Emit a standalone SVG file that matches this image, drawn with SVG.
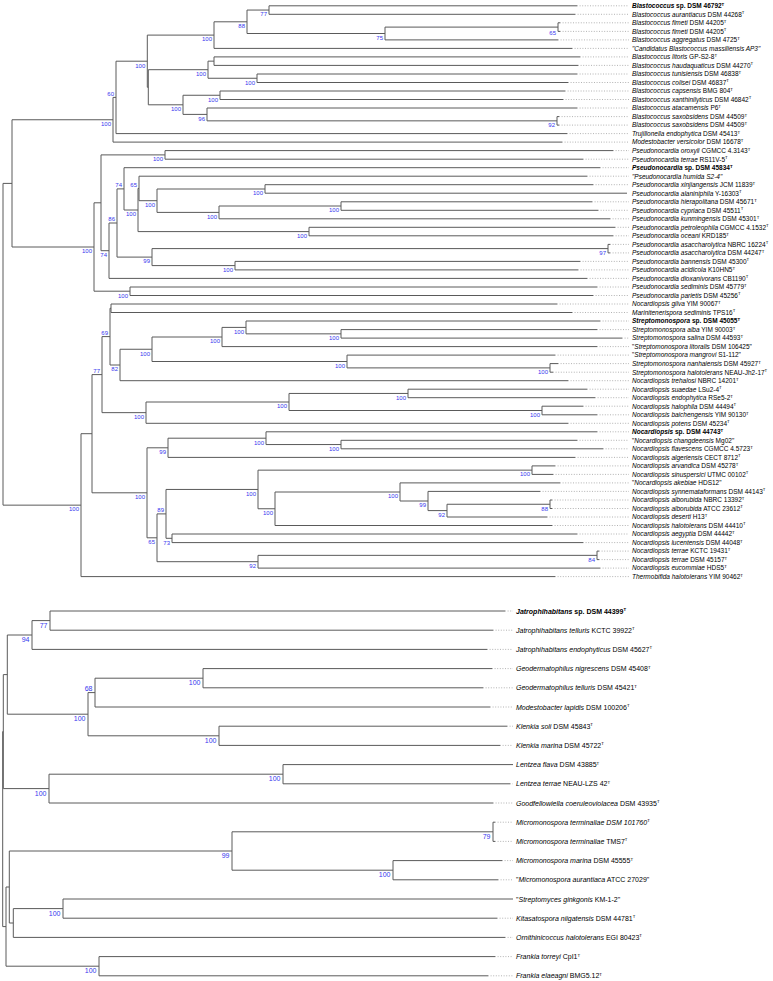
<svg xmlns="http://www.w3.org/2000/svg" width="773" height="981" viewBox="0 0 773 981">
<style>
.e{fill:none;stroke:#5a5a5a;stroke-width:1}
.d{fill:none;stroke:#a0a0a0;stroke-width:0.8;stroke-dasharray:1 1.6}
.t{font-family:"Liberation Sans",Arial,sans-serif;font-size:6.5px;fill:#000}
.tb{font-size:7px}
.i{font-style:italic}
.b{font-weight:bold}
.s{font-size:4.3px}
.bs{font-family:"Liberation Sans",Arial,sans-serif;font-size:6px;fill:#3636ee;text-anchor:end}
.bs2{font-size:7px}
</style>
<rect width="773" height="981" fill="#fff"/>
<g id="connectors">
<path class="e" d="M3 183.4V505.15M3 183.4H12M3 505.15H81
M12 119.75V247M12 119.75H113M12 247H94
M113 97.4V142.1M113 97.4H116M113 142.1H562
M116 61.2V133.6M116 61.2H147.3M116 133.6H567
M147.3 35.1V87.25M147.3 35.1H214M147.3 87.25H148.3
M148.3 69.7V104.8M148.3 69.7H208M148.3 104.8H183
M214 21.8V48.4M214 21.8H247M214 48.4H572
M247 10.05V33.5M247 10.05H269M247 33.5H385
M269 5.8V14.3M269 5.8H577M269 14.3H575
M385 27.1V39.9M385 27.1H558M385 39.9H558
M558 22.8V31.4M558 22.8H560M558 31.4H560
M208 61.15V78.25M208 61.15H214M208 78.25H257
M214 56.9V65.4M214 56.9H580M214 65.4H578
M257 74V82.5M257 74H577M257 82.5H568
M183 95.25V114.4M183 95.25H220M183 114.4H207
M220 91V99.5M220 91H565M220 99.5H563
M207 108V120.85M207 108H577M207 120.85H557
M557 116.6V125.1M557 116.6H559M557 125.1H559
M94 202.8V291.2M94 202.8H101M94 291.2H130
M130 287V295.5M130 287H597M130 295.5H593
M101 154.9V250.7M101 154.9H165M101 250.7H109
M165 150.6V159.2M165 150.6H613M165 159.2H583
M109 223V278.4M109 223H117M109 278.4H587
M117 188.9V257.1M117 188.9H124M117 257.1H152
M124 167.7V210M124 167.7H600M124 210H138
M138 188.4V231.6M138 188.4H139M138 231.6H309
M139 176.2V200.7M139 176.2H587M139 200.7H157
M157 189V212.4M157 189H265M157 212.4H219
M265 184.7V193.2M265 184.7H593M265 193.2H627
M219 206V218.8M219 206H341M219 218.8H610
M341 201.8V210.3M341 201.8H592M341 210.3H598
M309 227.3V235.8M309 227.3H615M309 235.8H613
M152 248.6V265.6M152 248.6H608M152 265.6H235
M608 244.4V252.9M608 244.4H610M608 252.9H610
M235 261.4V269.9M235 261.4H580M235 269.9H578
M81 433.7V576.6M81 433.7H92M81 576.6H555
M92 374.6V492.8M92 374.6H102M92 492.8H147
M102 336.6V412.65M102 336.6H110M102 412.65H146
M110 308.25V365M110 308.25H111M110 365H120
M111 304V312.5M111 304H557M111 312.5H572
M120 349.25V380.7M120 349.25H152M120 380.7H568
M152 337V361.5M152 337H222M152 361.5H347
M222 327.4V346.6M222 327.4H246M222 346.6H597
M246 321V333.85M246 321H600M246 333.85H341
M341 329.6V338.1M341 329.6H597M341 338.1H622
M347 355.1V367.9M347 355.1H555M347 367.9H550
M550 363.6V372.2M550 363.6H558M550 372.2H553
M146 402V423.3M146 402H289M146 423.3H568
M289 393.45V410.5M289 393.45H408M289 410.5H542
M408 389.2V397.7M408 389.2H587M408 397.7H595
M542 406.2V414.8M542 406.2H583M542 414.8H597
M147 447.8V537.8M147 447.8H168M147 537.8H157
M168 438.2V457.4M168 438.2H266M168 457.4H575
M266 431.8V444.55M266 431.8H597M266 444.55H341
M341 440.3V448.8M341 440.3H577M341 448.8H603
M157 513.9V561.7M157 513.9H166M157 561.7H258
M166 489.45V538.3M166 489.45H258M166 538.3H172
M258 470.15V508.75M258 470.15H532M258 508.75H275
M532 465.9V474.4M532 465.9H555M532 474.4H553
M275 492V525.5M275 492H400M275 525.5H552
M400 482.9V501M400 482.9H560M400 501H428
M428 491.4V510.6M428 491.4H540M428 510.6H447
M447 504.25V517M447 504.25H550M447 517H547
M550 500V508.5M550 500H552M550 508.5H552
M172 534V542.6M172 534H577M172 542.6H583
M258 555.35V568.1M258 555.35H597M258 568.1H600
M597 551.1V559.6M597 551.1H599M597 559.6H599
M2.7 731.6V926.6M2.7 731.6H3.3M2.7 926.6H6
M3.3 674.6V788.6M3.3 674.6H7.3M3.3 788.6H49
M7.3 635V714.2M7.3 635H32M7.3 714.2H88
M32 620.6V649.4M32 620.6H50M32 649.4H487
M50 611V630.2M50 611H505M50 630.2H493
M88 692.6V735.8M88 692.6H95M88 735.8H219
M95 678.2V707M95 678.2H203M95 707H490
M203 668.6V687.8M203 668.6H492M203 687.8H483
M219 726.2V745.4M219 726.2H507M219 745.4H500
M49 774.2V803M49 774.2H283M49 803H493
M283 764.6V783.8M283 764.6H513M283 783.8H510
M6 887V966.2M6 887H9.3M6 966.2H99
M9.3 851V923M9.3 851H232M9.3 923H13.3
M232 831.8V870.2M232 831.8H493M232 870.2H393
M493 822.2V841.4M493 822.2H495M493 841.4H495
M393 860.6V879.8M393 860.6H502M393 879.8H498
M13.3 908.6V937.4M13.3 908.6H63M13.3 937.4H505
M63 899V918.2M63 899H513M63 918.2H497
M99 956.6V975.8M99 956.6H495M99 975.8H488"/>
<path class="d" d="M577 5.8H629M575 14.3H629M560 22.8H629M560 31.4H629M558 39.9H629M572 48.4H629M580 56.9H629M578 65.4H629M577 74H629M568 82.5H629M565 91H629M563 99.5H629M577 108H629M559 116.6H629M559 125.1H629M567 133.6H629M562 142.1H629M613 150.6H629M583 159.2H629M600 167.7H629M587 176.2H629M593 184.7H629M592 201.8H629M598 210.3H629M610 218.8H629M615 227.3H629M613 235.8H629M610 244.4H629M610 252.9H629M580 261.4H629M578 269.9H629M587 278.4H629M597 287H629M593 295.5H629M557 304H629M572 312.5H629M600 321H629M597 329.6H629M622 338.1H629M597 346.6H629M555 355.1H629M558 363.6H629M553 372.2H629M568 380.7H629M587 389.2H629M595 397.7H629M583 406.2H629M597 414.8H629M568 423.3H629M597 431.8H629M577 440.3H629M603 448.8H629M575 457.4H629M555 465.9H629M553 474.4H629M560 482.9H629M540 491.4H629M552 500H629M552 508.5H629M547 517H629M552 525.5H629M577 534H629M583 542.6H629M599 551.1H629M599 559.6H629M600 568.1H629M555 576.6H629
M505 611H513M493 630.2H513M487 649.4H513M492 668.6H513M483 687.8H513M490 707H513M507 726.2H513M500 745.4H513M510 783.8H513M493 803H513M495 822.2H513M495 841.4H513M502 860.6H513M498 879.8H513M497 918.2H513M505 937.4H513M495 956.6H513M488 975.8H513"/>
</g>
<g id="leaves-top">
<g id="L0"><text class="t b" x="632" y="8.1"><tspan class="i">Blastococcus</tspan> sp. DSM 46792<tspan class="s" dy="-2.4">T</tspan></text></g>
<g id="L1"><text class="t" x="632" y="16.6"><tspan class="i">Blastococcus aurantiacus</tspan> DSM 44268<tspan class="s" dy="-2.4">T</tspan></text></g>
<g id="L2"><text class="t" x="632" y="25.1"><tspan class="i">Blastococcus fimeti</tspan> DSM 44205<tspan class="s" dy="-2.4">T</tspan></text></g>
<g id="L3"><text class="t" x="632" y="33.7"><tspan class="i">Blastococcus fimeti</tspan> DSM 44205<tspan class="s" dy="-2.4">T</tspan></text></g>
<g id="L4"><text class="t" x="632" y="42.2"><tspan class="i">Blastococcus aggregatus</tspan> DSM 4725<tspan class="s" dy="-2.4">T</tspan></text></g>
<g id="L5"><text class="t i" x="632" y="50.7">"Candidatus Blastococcus massiliensis AP3"</text></g>
<g id="L6"><text class="t" x="632" y="59.2"><tspan class="i">Blastococcus litoris</tspan> GP-S2-8<tspan class="s" dy="-2.4">T</tspan></text></g>
<g id="L7"><text class="t" x="632" y="67.7"><tspan class="i">Blastococcus haudaquaticus</tspan> DSM 44270<tspan class="s" dy="-2.4">T</tspan></text></g>
<g id="L8"><text class="t" x="632" y="76.3"><tspan class="i">Blastococcus tunisiensis</tspan> DSM 46838<tspan class="s" dy="-2.4">T</tspan></text></g>
<g id="L9"><text class="t" x="632" y="84.8"><tspan class="i">Blastococcus colisei</tspan> DSM 46837<tspan class="s" dy="-2.4">T</tspan></text></g>
<g id="L10"><text class="t" x="632" y="93.3"><tspan class="i">Blastococcus capsensis</tspan> BMG 804<tspan class="s" dy="-2.4">T</tspan></text></g>
<g id="L11"><text class="t" x="632" y="101.8"><tspan class="i">Blastococcus xanthinilyticus</tspan> DSM 46842<tspan class="s" dy="-2.4">T</tspan></text></g>
<g id="L12"><text class="t" x="632" y="110.3"><tspan class="i">Blastococcus atacamensis</tspan> P6<tspan class="s" dy="-2.4">T</tspan></text></g>
<g id="L13"><text class="t" x="632" y="118.9"><tspan class="i">Blastococcus saxobsidens</tspan> DSM 44509<tspan class="s" dy="-2.4">T</tspan></text></g>
<g id="L14"><text class="t" x="632" y="127.4"><tspan class="i">Blastococcus saxobsidens</tspan> DSM 44509<tspan class="s" dy="-2.4">T</tspan></text></g>
<g id="L15"><text class="t" x="632" y="135.9"><tspan class="i">Trujillonella endophytica</tspan> DSM 45413<tspan class="s" dy="-2.4">T</tspan></text></g>
<g id="L16"><text class="t" x="632" y="144.4"><tspan class="i">Modestobacter versicolor</tspan> DSM 16678<tspan class="s" dy="-2.4">T</tspan></text></g>
<g id="L17"><text class="t" x="632" y="152.9"><tspan class="i">Pseudonocardia oroxyli</tspan> CGMCC 4.3143<tspan class="s" dy="-2.4">T</tspan></text></g>
<g id="L18"><text class="t" x="632" y="161.5"><tspan class="i">Pseudonocardia terrae</tspan> RS11V-5<tspan class="s" dy="-2.4">T</tspan></text></g>
<g id="L19"><text class="t b" x="632" y="170"><tspan class="i">Pseudonocardia</tspan> sp. DSM 45834<tspan class="s" dy="-2.4">T</tspan></text></g>
<g id="L20"><text class="t i" x="632" y="178.5">"Pseudonocardia humida S2-4"</text></g>
<g id="L21"><text class="t" x="632" y="187"><tspan class="i">Pseudonocardia xinjiangensis</tspan> JCM 11839<tspan class="s" dy="-2.4">T</tspan></text></g>
<g id="L22"><text class="t" x="632" y="195.5"><tspan class="i">Pseudonocardia alaniniphila</tspan> Y-16303<tspan class="s" dy="-2.4">T</tspan></text></g>
<g id="L23"><text class="t" x="632" y="204.1"><tspan class="i">Pseudonocardia hierapolitana</tspan> DSM 45671<tspan class="s" dy="-2.4">T</tspan></text></g>
<g id="L24"><text class="t" x="632" y="212.6"><tspan class="i">Pseudonocardia cypriaca</tspan> DSM 45511<tspan class="s" dy="-2.4">T</tspan></text></g>
<g id="L25"><text class="t" x="632" y="221.1"><tspan class="i">Pseudonocardia kunmingensis</tspan> DSM 45301<tspan class="s" dy="-2.4">T</tspan></text></g>
<g id="L26"><text class="t" x="632" y="229.6"><tspan class="i">Pseudonocardia petroleophila</tspan> CGMCC 4.1532<tspan class="s" dy="-2.4">T</tspan></text></g>
<g id="L27"><text class="t" x="632" y="238.1"><tspan class="i">Pseudonocardia oceani</tspan> KRD185<tspan class="s" dy="-2.4">T</tspan></text></g>
<g id="L28"><text class="t" x="632" y="246.7"><tspan class="i">Pseudonocardia asaccharolytica</tspan> NBRC 16224<tspan class="s" dy="-2.4">T</tspan></text></g>
<g id="L29"><text class="t" x="632" y="255.2"><tspan class="i">Pseudonocardia asaccharolytica</tspan> DSM 44247<tspan class="s" dy="-2.4">T</tspan></text></g>
<g id="L30"><text class="t" x="632" y="263.7"><tspan class="i">Pseudonocardia bannensis</tspan> DSM 45300<tspan class="s" dy="-2.4">T</tspan></text></g>
<g id="L31"><text class="t" x="632" y="272.2"><tspan class="i">Pseudonocardia acidicola</tspan> K10HN5<tspan class="s" dy="-2.4">T</tspan></text></g>
<g id="L32"><text class="t" x="632" y="280.7"><tspan class="i">Pseudonocardia dioxanivorans</tspan> CB1190<tspan class="s" dy="-2.4">T</tspan></text></g>
<g id="L33"><text class="t" x="632" y="289.3"><tspan class="i">Pseudonocardia sediminis</tspan> DSM 45779<tspan class="s" dy="-2.4">T</tspan></text></g>
<g id="L34"><text class="t" x="632" y="297.8"><tspan class="i">Pseudonocardia parietis</tspan> DSM 45256<tspan class="s" dy="-2.4">T</tspan></text></g>
<g id="L35"><text class="t" x="632" y="306.3"><tspan class="i">Nocardiopsis gilva</tspan> YIM 90067<tspan class="s" dy="-2.4">T</tspan></text></g>
<g id="L36"><text class="t" x="632" y="314.8"><tspan class="i">Marinitenerispora sediminis</tspan> TPS16<tspan class="s" dy="-2.4">T</tspan></text></g>
<g id="L37"><text class="t b" x="632" y="323.3"><tspan class="i">Streptomonospora</tspan> sp. DSM 45055<tspan class="s" dy="-2.4">T</tspan></text></g>
<g id="L38"><text class="t" x="632" y="331.9"><tspan class="i">Streptomonospora alba</tspan> YIM 90003<tspan class="s" dy="-2.4">T</tspan></text></g>
<g id="L39"><text class="t" x="632" y="340.4"><tspan class="i">Streptomonospora salina</tspan> DSM 44593<tspan class="s" dy="-2.4">T</tspan></text></g>
<g id="L40"><text class="t" x="632" y="348.9">"<tspan class="i">Streptomonospora litoralis</tspan> DSM 106425"</text></g>
<g id="L41"><text class="t" x="632" y="357.4">"<tspan class="i">Streptomonospora mangrovi</tspan> S1-112"</text></g>
<g id="L42"><text class="t" x="632" y="365.9"><tspan class="i">Streptomonospora nanhaiensis</tspan> DSM 45927<tspan class="s" dy="-2.4">T</tspan></text></g>
<g id="L43"><text class="t" x="632" y="374.5"><tspan class="i">Streptomonospora halotolerans</tspan> NEAU-Jh2-17<tspan class="s" dy="-2.4">T</tspan></text></g>
<g id="L44"><text class="t" x="632" y="383"><tspan class="i">Nocardiopsis trehalosi</tspan> NBRC 14201<tspan class="s" dy="-2.4">T</tspan></text></g>
<g id="L45"><text class="t" x="632" y="391.5"><tspan class="i">Nocardiopsis suaedae</tspan> LSu2-4<tspan class="s" dy="-2.4">T</tspan></text></g>
<g id="L46"><text class="t" x="632" y="400"><tspan class="i">Nocardiopsis endophytica</tspan> RSe5-2<tspan class="s" dy="-2.4">T</tspan></text></g>
<g id="L47"><text class="t" x="632" y="408.5"><tspan class="i">Nocardiopsis halophila</tspan> DSM 44494<tspan class="s" dy="-2.4">T</tspan></text></g>
<g id="L48"><text class="t" x="632" y="417.1"><tspan class="i">Nocardiopsis baichengensis</tspan> YIM 90130<tspan class="s" dy="-2.4">T</tspan></text></g>
<g id="L49"><text class="t" x="632" y="425.6"><tspan class="i">Nocardiopsis potens</tspan> DSM 45234<tspan class="s" dy="-2.4">T</tspan></text></g>
<g id="L50"><text class="t b" x="632" y="434.1"><tspan class="i">Nocardiopsis</tspan> sp. DSM 44743<tspan class="s" dy="-2.4">T</tspan></text></g>
<g id="L51"><text class="t" x="632" y="442.6">"<tspan class="i">Nocardiopsis changdeensis</tspan> Mg02"</text></g>
<g id="L52"><text class="t" x="632" y="451.1"><tspan class="i">Nocardiopsis flavescens</tspan> CGMCC 4.5723<tspan class="s" dy="-2.4">T</tspan></text></g>
<g id="L53"><text class="t" x="632" y="459.7"><tspan class="i">Nocardiopsis algeriensis</tspan> CECT 8712<tspan class="s" dy="-2.4">T</tspan></text></g>
<g id="L54"><text class="t" x="632" y="468.2"><tspan class="i">Nocardiopsis arvandica</tspan> DSM 45278<tspan class="s" dy="-2.4">T</tspan></text></g>
<g id="L55"><text class="t" x="632" y="476.7"><tspan class="i">Nocardiopsis sinuspersici</tspan> UTMC 00102<tspan class="s" dy="-2.4">T</tspan></text></g>
<g id="L56"><text class="t" x="632" y="485.2">"<tspan class="i">Nocardiopsis akebiae</tspan> HDS12"</text></g>
<g id="L57"><text class="t" x="632" y="493.7"><tspan class="i">Nocardiopsis synnemataformans</tspan> DSM 44143<tspan class="s" dy="-2.4">T</tspan></text></g>
<g id="L58"><text class="t" x="632" y="502.3"><tspan class="i">Nocardiopsis alborubida</tspan> NBRC 13392<tspan class="s" dy="-2.4">T</tspan></text></g>
<g id="L59"><text class="t" x="632" y="510.8"><tspan class="i">Nocardiopsis alborubida</tspan> ATCC 23612<tspan class="s" dy="-2.4">T</tspan></text></g>
<g id="L60"><text class="t" x="632" y="519.3"><tspan class="i">Nocardiopsis deserti</tspan> H13<tspan class="s" dy="-2.4">T</tspan></text></g>
<g id="L61"><text class="t" x="632" y="527.8"><tspan class="i">Nocardiopsis halotolerans</tspan> DSM 44410<tspan class="s" dy="-2.4">T</tspan></text></g>
<g id="L62"><text class="t" x="632" y="536.3"><tspan class="i">Nocardiopsis aegyptia</tspan> DSM 44442<tspan class="s" dy="-2.4">T</tspan></text></g>
<g id="L63"><text class="t" x="632" y="544.9"><tspan class="i">Nocardiopsis lucentensis</tspan> DSM 44048<tspan class="s" dy="-2.4">T</tspan></text></g>
<g id="L64"><text class="t" x="632" y="553.4"><tspan class="i">Nocardiopsis terrae</tspan> KCTC 19431<tspan class="s" dy="-2.4">T</tspan></text></g>
<g id="L65"><text class="t" x="632" y="561.9"><tspan class="i">Nocardiopsis terrae</tspan> DSM 45157<tspan class="s" dy="-2.4">T</tspan></text></g>
<g id="L66"><text class="t" x="632" y="570.4"><tspan class="i">Nocardiopsis eucommiae</tspan> HDS5<tspan class="s" dy="-2.4">T</tspan></text></g>
<g id="L67"><text class="t" x="632" y="578.9"><tspan class="i">Thermobifida halotolerans</tspan> YIM 90462<tspan class="s" dy="-2.4">T</tspan></text></g>
</g>
<g id="leaves-bottom">
<g id="B1"><text class="t tb b" x="516" y="613.5"><tspan class="i">Jatrophihabitans</tspan> sp. DSM 44399<tspan class="s" dy="-2.6">T</tspan></text></g>
<g id="B2"><text class="t tb" x="516" y="632.7"><tspan class="i">Jatrophihabitans telluris</tspan> KCTC 39922<tspan class="s" dy="-2.6">T</tspan></text></g>
<g id="B3"><text class="t tb" x="516" y="651.9"><tspan class="i">Jatrophihabitans endophyticus</tspan> DSM 45627<tspan class="s" dy="-2.6">T</tspan></text></g>
<g id="B4"><text class="t tb" x="516" y="671.1"><tspan class="i">Geodermatophilus nigrescens</tspan> DSM 45408<tspan class="s" dy="-2.6">T</tspan></text></g>
<g id="B5"><text class="t tb" x="516" y="690.3"><tspan class="i">Geodermatophilus telluris</tspan> DSM 45421<tspan class="s" dy="-2.6">T</tspan></text></g>
<g id="B6"><text class="t tb" x="516" y="709.5"><tspan class="i">Modestobacter lapidis</tspan> DSM 100206<tspan class="s" dy="-2.6">T</tspan></text></g>
<g id="B7"><text class="t tb" x="516" y="728.7"><tspan class="i">Klenkia soli</tspan> DSM 45843<tspan class="s" dy="-2.6">T</tspan></text></g>
<g id="B8"><text class="t tb" x="516" y="747.9"><tspan class="i">Klenkia marina</tspan> DSM 45722<tspan class="s" dy="-2.6">T</tspan></text></g>
<g id="B9"><text class="t tb" x="516" y="767.1"><tspan class="i">Lentzea flava</tspan> DSM 43885<tspan class="s" dy="-2.6">T</tspan></text></g>
<g id="B10"><text class="t tb" x="516" y="786.3"><tspan class="i">Lentzea terrae</tspan> NEAU-LZS 42<tspan class="s" dy="-2.6">T</tspan></text></g>
<g id="B11"><text class="t tb" x="516" y="805.5"><tspan class="i">Goodfellowiella coeruleoviolacea</tspan> DSM 43935<tspan class="s" dy="-2.6">T</tspan></text></g>
<g id="B12"><text class="t tb" x="516" y="824.7"><tspan class="i">Micromonospora terminaliae DSM 101760</tspan><tspan class="s" dy="-2.6">T</tspan></text></g>
<g id="B13"><text class="t tb" x="516" y="843.9"><tspan class="i">Micromonospora terminaliae</tspan> TMS7<tspan class="s" dy="-2.6">T</tspan></text></g>
<g id="B14"><text class="t tb" x="516" y="863.1"><tspan class="i">Micromonospora marina</tspan> DSM 45555<tspan class="s" dy="-2.6">T</tspan></text></g>
<g id="B15"><text class="t tb" x="516" y="882.3">"<tspan class="i">Micromonospora aurantiaca</tspan> ATCC 27029"</text></g>
<g id="B16"><text class="t tb" x="516" y="901.5">"<tspan class="i">Streptomyces ginkgonis</tspan> KM-1-2"</text></g>
<g id="B17"><text class="t tb" x="516" y="920.7"><tspan class="i">Kitasatospora niigatensis</tspan> DSM 44781<tspan class="s" dy="-2.6">T</tspan></text></g>
<g id="B18"><text class="t tb" x="516" y="939.9"><tspan class="i">Ornithinicoccus halotolerans</tspan> EGI 80423<tspan class="s" dy="-2.6">T</tspan></text></g>
<g id="B19"><text class="t tb" x="516" y="959.1"><tspan class="i">Frankia torreyi</tspan> CpI1<tspan class="s" dy="-2.6">T</tspan></text></g>
<g id="B20"><text class="t tb" x="516" y="978.3"><tspan class="i">Frankia elaeagni</tspan> BMG5.12<tspan class="s" dy="-2.6">T</tspan></text></g>
</g>
<g id="support-top">
<g id="n77"><text class="bs" x="267" y="16.3">77</text></g>
<g id="n88"><text class="bs" x="245" y="28.1">88</text></g>
<g id="n75"><text class="bs" x="383" y="39.8">75</text></g>
<g id="n65"><text class="bs" x="556" y="35">65</text></g>
<g id="n214"><text class="bs" x="212" y="41.4">100</text></g>
<g id="n147"><text class="bs" x="145.3" y="67.5">100</text></g>
<g id="n208"><text class="bs" x="206" y="76">100</text></g>
<g id="n257"><text class="bs" x="255" y="84.5">100</text></g>
<g id="n220"><text class="bs" x="218" y="101.5">100</text></g>
<g id="n183"><text class="bs" x="181" y="111.1">100</text></g>
<g id="n207"><text class="bs" x="205" y="120.7">96</text></g>
<g id="n557"><text class="bs" x="555" y="127.1">92</text></g>
<g id="n116"><text class="bs" x="114" y="95.6">60</text></g>
<g id="n113"><text class="bs" x="111" y="126">100</text></g>
<g id="n165"><text class="bs" x="163" y="161.2">100</text></g>
<g id="n109"><text class="bs" x="107" y="257">74</text></g>
<g id="n117"><text class="bs" x="115" y="221.2">86</text></g>
<g id="n124"><text class="bs" x="122" y="187.1">74</text></g>
<g id="n139"><text class="bs" x="137" y="186.6">65</text></g>
<g id="n138"><text class="bs" x="136" y="216.3">100</text></g>
<g id="n157"><text class="bs" x="155" y="207">100</text></g>
<g id="n265"><text class="bs" x="263" y="195.3">100</text></g>
<g id="n219"><text class="bs" x="217" y="218.7">100</text></g>
<g id="n341"><text class="bs" x="339" y="212.3">100</text></g>
<g id="n309"><text class="bs" x="307" y="237.9">100</text></g>
<g id="n152"><text class="bs" x="150" y="263.4">99</text></g>
<g id="n235"><text class="bs" x="233" y="271.9">100</text></g>
<g id="n608"><text class="bs" x="606" y="254.9">97</text></g>
<g id="n94"><text class="bs" x="92" y="253.3">100</text></g>
<g id="n130"><text class="bs" x="128" y="297.5">100</text></g>
<g id="n81"><text class="bs" x="79" y="511.4">100</text></g>
<g id="n102"><text class="bs" x="100" y="372.8">77</text></g>
<g id="n110"><text class="bs" x="108" y="334.8">69</text></g>
<g id="n120"><text class="bs" x="118" y="371.3">82</text></g>
<g id="n146"><text class="bs" x="144" y="419">100</text></g>
<g id="n147b"><text class="bs" x="145" y="499.1">100</text></g>
<g id="n152b"><text class="bs" x="150" y="355.5">100</text></g>
<g id="n222"><text class="bs" x="220" y="343.3">100</text></g>
<g id="n246"><text class="bs" x="244" y="333.7">100</text></g>
<g id="n341b"><text class="bs" x="339" y="340.1">100</text></g>
<g id="n347"><text class="bs" x="345" y="367.8">100</text></g>
<g id="n550s"><text class="bs" x="548" y="374.2">100</text></g>
<g id="n289"><text class="bs" x="287" y="408.3">100</text></g>
<g id="n408"><text class="bs" x="406" y="399.7">100</text></g>
<g id="n542"><text class="bs" x="540" y="416.8">100</text></g>
<g id="n168"><text class="bs" x="166" y="454.1">99</text></g>
<g id="n266"><text class="bs" x="264" y="444.5">100</text></g>
<g id="n341c"><text class="bs" x="339" y="450.8">100</text></g>
<g id="n157b"><text class="bs" x="155" y="544.1">65</text></g>
<g id="n166"><text class="bs" x="164" y="512.1">89</text></g>
<g id="n172"><text class="bs" x="170" y="544.6">73</text></g>
<g id="n258a"><text class="bs" x="256" y="495.7">100</text></g>
<g id="n275"><text class="bs" x="273" y="515">100</text></g>
<g id="n400"><text class="bs" x="398" y="498.3">100</text></g>
<g id="n428"><text class="bs" x="426" y="507.3">99</text></g>
<g id="n447"><text class="bs" x="445" y="516.9">92</text></g>
<g id="n550a"><text class="bs" x="548" y="510.5">88</text></g>
<g id="n532"><text class="bs" x="530" y="476.4">100</text></g>
<g id="n258b"><text class="bs" x="256" y="568">92</text></g>
<g id="n597"><text class="bs" x="595" y="561.6">84</text></g>
</g>
<g id="support-bottom">
<g id="b50"><text class="bs bs2" x="47.5" y="627.6">77</text></g>
<g id="b32"><text class="bs bs2" x="29.5" y="642">94</text></g>
<g id="b203"><text class="bs bs2" x="200.5" y="685.2">100</text></g>
<g id="b95"><text class="bs bs2" x="92.5" y="690.6">68</text></g>
<g id="b219"><text class="bs bs2" x="216.5" y="742.8">100</text></g>
<g id="b88"><text class="bs bs2" x="85.5" y="721.2">100</text></g>
<g id="b283"><text class="bs bs2" x="280.5" y="781.2">100</text></g>
<g id="b49"><text class="bs bs2" x="46.5" y="795.6">100</text></g>
<g id="b493"><text class="bs bs2" x="490.5" y="838.8">79</text></g>
<g id="b393"><text class="bs bs2" x="390.5" y="877.2">100</text></g>
<g id="b232"><text class="bs bs2" x="229.5" y="858">99</text></g>
<g id="b63"><text class="bs bs2" x="60.5" y="915.6">100</text></g>
<g id="b99"><text class="bs bs2" x="96.5" y="973.2">100</text></g>
</g>
</svg>
